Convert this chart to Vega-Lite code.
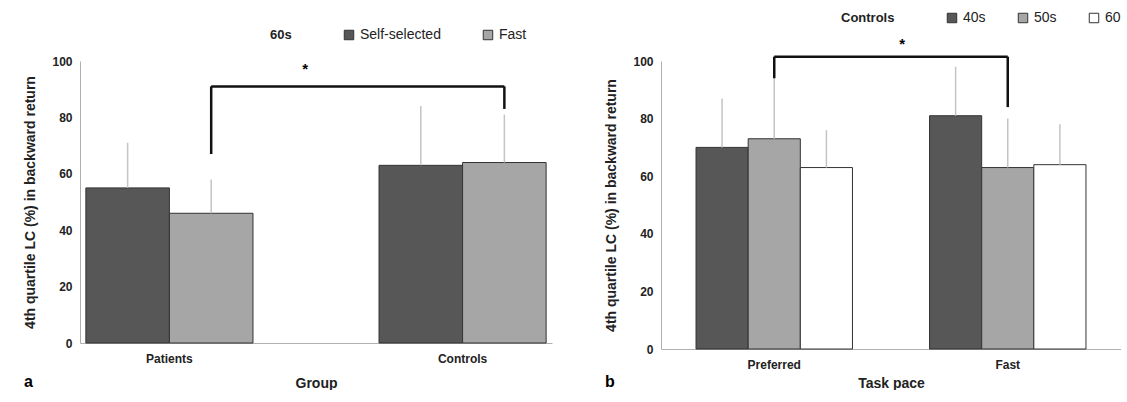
{
  "$schema": "https://vega.github.io/schema/vega-lite/v6.json",
  "padding": {"left": 23, "top": 11, "right": 0, "bottom": 0},
  "spacing": 52,
  "resolve": {"scale": {"color": "independent", "x": "independent", "xOffset": "independent", "y": "independent"}, "legend": {"color": "independent"}},
  "config": {
    "font": "Liberation Sans",
    "view": {"stroke": null},
    "axis": {"grid": false, "domainColor": "#b0b0b0", "ticks": false, "labelFont": "Liberation Sans", "labelFontWeight": "bold", "labelFontSize": 12, "labelColor": "#222", "titleFontSize": 14, "titleFontWeight": "bold", "titleColor": "#222"},
    "legend": {"orient": "none", "direction": "horizontal", "titleOrient": "left", "titleFontSize": 13, "titleFontWeight": "bold", "labelFontSize": 14, "labelColor": "#222", "titleColor": "#222", "symbolType": "square", "symbolSize": 90, "symbolStrokeColor": "#333", "symbolStrokeWidth": 1, "columnPadding": 40, "titlePadding": 50},
    "title": {"orient": "bottom", "anchor": "start", "fontSize": 16, "fontWeight": "bold", "offset": -16, "dx": 0}
  },
  "hconcat": [
    {
      "width": 472,
      "height": 282,
      "title": "a",
      "data": {"values": [
        {"group": "Patients", "speed": "Self-selected", "mean": 55, "upper": 71},
        {"group": "Patients", "speed": "Fast", "mean": 46, "upper": 58},
        {"group": "Controls", "speed": "Self-selected", "mean": 63, "upper": 84},
        {"group": "Controls", "speed": "Fast", "mean": 64, "upper": 81}
      ]},
      "encoding": {
        "x": {"field": "group", "type": "nominal", "sort": ["Patients", "Controls"], "title": "Group", "scale": {"domain": ["Patients", "Controls"], "paddingInner": 0.43, "paddingOuter": 0.02}, "axis": {"labelAngle": 0, "labelPadding": 10, "titlePadding": 12}},
        "xOffset": {"field": "speed", "type": "nominal", "scale": {"domain": ["Self-selected", "Fast"]}}
      },
      "layer": [
        {
          "mark": {"type": "bar", "stroke": "#333", "strokeWidth": 1},
          "encoding": {
            "y": {"field": "mean", "type": "quantitative", "scale": {"domain": [0, 100]}, "title": "4th quartile LC (%) in backward return", "axis": {"tickCount": 5, "labelPadding": 8, "titlePadding": 14}},
            "color": {"field": "speed", "type": "nominal", "scale": {"domain": ["Self-selected", "Fast"], "range": ["#575757", "#a6a6a6"]}, "legend": {"title": "60s", "legendX": 190, "legendY": -33}}
          }
        },
        {
          "mark": {"type": "rule", "color": "#c4c4c4", "strokeWidth": 1.5},
          "encoding": {"y": {"field": "mean", "type": "quantitative"}, "y2": {"field": "upper"}}
        },
        {
          "data": {"values": [
            {"group": "Patients", "speed": "Fast", "y": 67, "y2": 91},
            {"group": "Controls", "speed": "Fast", "y": 83, "y2": 91}
          ]},
          "mark": {"type": "rule", "color": "#111", "strokeWidth": 2.5},
          "encoding": {"y": {"field": "y", "type": "quantitative"}, "y2": {"field": "y2"}}
        },
        {
          "data": {"values": [
            {"group": "Patients", "speed": "Fast", "y": 91, "order": 1},
            {"group": "Controls", "speed": "Fast", "y": 91, "order": 2}
          ]},
          "mark": {"type": "line", "color": "#111", "strokeWidth": 2.5},
          "encoding": {"y": {"field": "y", "type": "quantitative"}, "order": {"field": "order"}}
        },
        {
          "data": {"values": [{"group": "Patients", "speed": "Fast", "y": 97, "label": "*"}]},
          "mark": {"type": "text", "fontSize": 15, "fontWeight": "bold", "dx": 94},
          "encoding": {"y": {"field": "y", "type": "quantitative"}, "text": {"field": "label"}}
        }
      ]
    },
    {
      "width": 460,
      "height": 288,
      "title": "b",
      "data": {"values": [
        {"pace": "Preferred", "age": "40s", "mean": 70, "upper": 87},
        {"pace": "Preferred", "age": "50s", "mean": 73, "upper": 94},
        {"pace": "Preferred", "age": "60", "mean": 63, "upper": 76},
        {"pace": "Fast", "age": "40s", "mean": 81, "upper": 98},
        {"pace": "Fast", "age": "50s", "mean": 63, "upper": 80},
        {"pace": "Fast", "age": "60", "mean": 64, "upper": 78}
      ]},
      "encoding": {
        "x": {"field": "pace", "type": "nominal", "title": "Task pace", "scale": {"domain": ["Preferred", "Fast"], "paddingInner": 0.33, "paddingOuter": 0.15}, "axis": {"labelAngle": 0, "labelPadding": 10, "titlePadding": 6}},
        "xOffset": {"field": "age", "type": "nominal", "scale": {"domain": ["40s", "50s", "60"]}}
      },
      "layer": [
        {
          "mark": {"type": "bar", "stroke": "#333", "strokeWidth": 1},
          "encoding": {
            "y": {"field": "mean", "type": "quantitative", "scale": {"domain": [0, 100]}, "title": "4th quartile LC (%) in backward return", "axis": {"tickCount": 5, "labelPadding": 8, "titlePadding": 14}},
            "color": {"field": "age", "type": "nominal", "scale": {"domain": ["40s", "50s", "60"], "range": ["#575757", "#a6a6a6", "#ffffff"]}, "legend": {"title": "Controls", "legendX": 180, "legendY": -50, "columnPadding": 30}}
          }
        },
        {
          "mark": {"type": "rule", "color": "#c4c4c4", "strokeWidth": 1.5},
          "encoding": {"y": {"field": "mean", "type": "quantitative"}, "y2": {"field": "upper"}}
        },
        {
          "data": {"values": [
            {"pace": "Preferred", "age": "50s", "y": 94, "y2": 101.5},
            {"pace": "Fast", "age": "50s", "y": 84, "y2": 101.5}
          ]},
          "mark": {"type": "rule", "color": "#111", "strokeWidth": 2.5, "clip": false},
          "encoding": {"y": {"field": "y", "type": "quantitative"}, "y2": {"field": "y2"}}
        },
        {
          "data": {"values": [
            {"pace": "Preferred", "age": "50s", "y": 101.5, "order": 1},
            {"pace": "Fast", "age": "50s", "y": 101.5, "order": 2}
          ]},
          "mark": {"type": "line", "color": "#111", "strokeWidth": 2.5, "clip": false},
          "encoding": {"y": {"field": "y", "type": "quantitative"}, "order": {"field": "order"}}
        },
        {
          "data": {"values": [{"pace": "Preferred", "age": "50s", "y": 106, "label": "*"}]},
          "mark": {"type": "text", "fontSize": 15, "fontWeight": "bold", "dx": 128, "clip": false},
          "encoding": {"y": {"field": "y", "type": "quantitative"}, "text": {"field": "label"}}
        }
      ]
    }
  ]
}
